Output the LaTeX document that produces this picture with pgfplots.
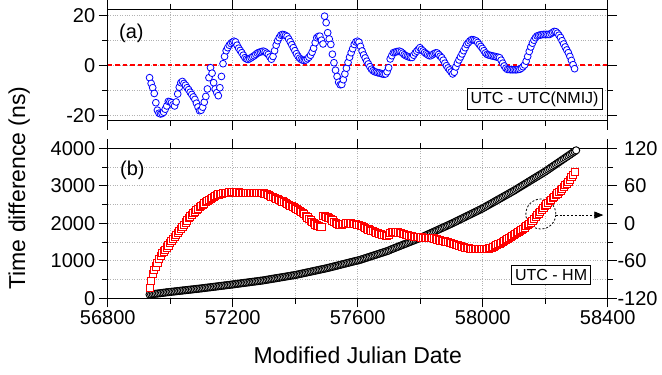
\documentclass[border=0pt]{standalone}
\usepackage{pgfplots}
\pgfplotsset{compat=1.18}
\usepackage{fontspec}
\setmainfont{Liberation Sans}
\usetikzlibrary{arrows.meta}

\pgfplotsset{
  mystyle/.style={
    scale only axis, width=500pt,
    xmin=56800, xmax=58400,
    xtick={56800,57200,57600,58000,58400},
    scaled x ticks=false, scaled y ticks=false,
    minor x tick num=1,
    tick align=outside,
    major tick length=9pt, minor tick length=5.5pt,
    tick style={black, line width=0.9pt},
    axis line style={line width=1.1pt},
    /pgf/number format/assume math mode=true,
    /pgf/number format/1000 sep={},
    tick label style={font=\fontsize{20}{24}\selectfont},
  },
  mygrid/.style={
    xmajorgrids=true, xminorgrids=true, ymajorgrids=true, yminorgrids=true,
    major grid style={dash pattern=on 0.8pt off 1.6pt, gray!60, line width=0.7pt},
    minor grid style={dash pattern=on 0.8pt off 1.6pt, gray!60, line width=0.7pt},
  }
}

\begin{document}
\begin{tikzpicture}[x=1pt,y=1pt]
\path[use as bounding box] (0,0) rectangle (662,375);

% ---------------- panel (a)
\begin{axis}[mystyle, mygrid,
  at={(107.7pt,254.3pt)}, anchor=south west, height=111.5pt,
  ymin=-22.2, ymax=22.4, ytick={-20,0,20}, minor y tick num=1,
  xticklabels={}, clip=false]
\draw[color=red, dash pattern=on 4.7pt off 2.8pt, line width=1.5pt] (axis cs:56800,0) -- (axis cs:58400,0);
\addplot[only marks, mark=*, mark size=3.4pt, mark options={fill=white, draw=blue, line width=0.8pt}] coordinates {
(56934,-5) (56939,-7.3) (56944,-9) (56949,-11.3) (56954,-15) (56959,-18) (56964,-19.2) (56969,-19.5) (56974,-19.3) (56979,-18.8) (56984,-17.6) (56989,-16.3) (56994,-14.5) (56999,-14.6) (57004,-15) (57009,-15.8) (57014,-16.3) (57019,-14.7) (57024,-11.5) (57029,-8.8) (57034,-7) (57039,-6.5) (57044,-7.3) (57049,-8) (57054,-9) (57059,-9.8) (57064,-10.8) (57069,-11.7) (57074,-12.7) (57079,-13.7) (57084,-15.2) (57089,-16.7) (57094,-18.2) (57099,-18) (57104,-16.8) (57109,-14.8) (57114,-12.5) (57119,-9.5) (57124,-5) (57129,-1) (57134,-3.2) (57139,-7) (57144,-9.5) (57149,-11) (57154,-12.2) (57159,-9) (57164,-4.5) (57169,0.6) (57174,3.5) (57179,5.8) (57184,7) (57189,8) (57194,8.7) (57199,9.2) (57204,9.6) (57209,9.3) (57214,8) (57219,6.8) (57224,5.9) (57229,5) (57234,4) (57239,3) (57244,2.5) (57249,2.3) (57254,2.6) (57259,3) (57264,3.4) (57269,3.8) (57274,4.3) (57279,4.8) (57284,5.1) (57289,5.3) (57294,5.5) (57299,5.6) (57304,5.3) (57309,4.8) (57314,4.3) (57319,3.3) (57324,2.4) (57329,3.5) (57334,5.8) (57339,8) (57344,9.8) (57349,11) (57354,12) (57359,12.3) (57364,12.2) (57369,11.9) (57374,11.5) (57379,10.5) (57384,9.4) (57389,8.2) (57394,7) (57399,5.8) (57404,4.6) (57409,3.6) (57414,2.8) (57419,2.3) (57424,2) (57429,1.9) (57434,2.1) (57439,2.6) (57444,3.2) (57449,4) (57454,5.2) (57459,6.8) (57464,9) (57469,11) (57474,11.5) (57479,11.6) (57484,10) (57489,8.5) (57494,19.6) (57499,17) (57504,13) (57509,10.5) (57514,8.3) (57519,4.4) (57524,1) (57529,-2) (57534,-4.5) (57539,-6.8) (57544,-7.8) (57549,-7.7) (57554,-5.8) (57559,-3.5) (57564,-1.2) (57569,1.1) (57574,3.2) (57579,5) (57584,6.6) (57589,8.3) (57594,9.3) (57599,9.6) (57604,9.2) (57609,7.5) (57614,5.7) (57619,4.1) (57624,2.9) (57629,1.6) (57634,0.5) (57639,-0.6) (57644,-1.6) (57649,-2.2) (57654,-2.6) (57659,-2.8) (57664,-3) (57669,-3.1) (57674,-3.3) (57679,-3.5) (57684,-3.6) (57689,-3.5) (57694,-2.6) (57699,-1) (57704,2.5) (57709,3.8) (57714,5) (57719,5.2) (57724,5.4) (57729,5.5) (57734,5.6) (57739,5.3) (57744,4.8) (57749,4.2) (57754,3.8) (57759,3.5) (57764,3.3) (57769,3.1) (57774,3.1) (57779,4) (57784,4.9) (57789,5.6) (57794,6.3) (57799,7) (57804,6.3) (57809,5.7) (57814,5.1) (57819,4.6) (57824,4.2) (57829,3.8) (57834,3.8) (57839,4.2) (57844,4.6) (57849,4.9) (57854,4.9) (57859,4.3) (57864,3.6) (57869,3) (57874,2) (57879,0.8) (57884,-0.2) (57889,-1.1) (57894,-1.9) (57899,-2.7) (57904,-3.5) (57909,-2.8) (57914,-0.7) (57919,0.8) (57924,2.1) (57929,3.3) (57934,4.5) (57939,5.8) (57944,7) (57949,8.3) (57954,9) (57959,9.7) (57964,10.2) (57969,10.2) (57974,10) (57979,9.7) (57984,9.1) (57989,8.3) (57994,7.5) (57999,6.7) (58004,5.8) (58009,4.9) (58014,4.3) (58019,4.1) (58024,3.9) (58029,3.8) (58034,3.6) (58039,3.5) (58044,3.3) (58049,3.2) (58054,3) (58059,2) (58064,0.8) (58069,-0.3) (58074,-1.2) (58079,-1.7) (58084,-1.7) (58089,-1.8) (58094,-1.8) (58099,-1.8) (58104,-1.8) (58109,-1.8) (58114,-1.7) (58119,-1.6) (58124,-1.2) (58129,-0.6) (58134,0.1) (58139,1.6) (58144,3.5) (58149,5.5) (58154,7.3) (58159,8.8) (58164,10) (58169,11) (58174,11.7) (58179,11.9) (58184,12.1) (58189,12.2) (58194,12.3) (58199,12.3) (58204,12.3) (58209,12.3) (58214,12.3) (58219,12.7) (58224,13.1) (58229,13.5) (58234,13.4) (58239,12.8) (58244,12) (58249,11.1) (58254,9.8) (58259,8.5) (58264,7.3) (58269,6.1) (58274,5) (58279,3.5) (58284,1.9) (58289,0.2) (58294,-1.4)
};
\node[draw=black, line width=0.9pt, fill=white, font=\fontsize{16}{19}\selectfont, inner sep=3.5pt] at (axis cs:58166,-13.5) {UTC - UTC(NMIJ)};
\end{axis}

% ---------------- panel (b), left axis
\begin{axis}[mystyle, mygrid,
  at={(107.7pt,76.7pt)}, anchor=south west, height=150pt,
  axis y line*=left,
  ymin=0, ymax=4000, ytick={0,1000,2000,3000,4000}, minor y tick num=1,
  clip=false]
\addplot[only marks, mark=*, mark size=3.6pt, mark options={fill=white, draw=black, line width=0.95pt}] coordinates {
(56934,100) (56939,105) (56944,110) (56949,116) (56954,121) (56959,126) (56964,132) (56969,137) (56974,143) (56979,148) (56984,153) (56989,159) (56994,164) (56999,169)
(57004,174) (57009,178) (57014,183) (57019,188) (57024,193) (57029,197) (57034,202) (57039,207) (57044,212) (57049,216) (57054,221) (57059,226) (57064,231) (57069,235) (57074,240) (57079,245) (57084,250) (57089,254) (57094,259) (57099,264)
(57104,269) (57109,274) (57114,280) (57119,285) (57124,290) (57129,295) (57134,300) (57139,306) (57144,311) (57149,316) (57154,321) (57159,327) (57164,332) (57169,337) (57174,342) (57179,348) (57184,353) (57189,358) (57194,363) (57199,369)
(57204,374) (57209,380) (57214,385) (57219,391) (57224,396) (57229,402) (57234,407) (57239,413) (57244,418) (57249,424) (57254,429) (57259,435) (57264,440) (57269,446) (57274,451) (57279,457) (57284,462) (57289,468) (57294,473) (57299,479)
(57304,487) (57309,494) (57314,501) (57319,508) (57324,515) (57329,522) (57334,529) (57339,536) (57344,543) (57349,550) (57354,557) (57359,564) (57364,571) (57369,578) (57374,585) (57379,592) (57384,599) (57389,606) (57394,613) (57399,620)
(57404,628) (57409,637) (57414,646) (57419,655) (57424,664) (57429,673) (57434,682) (57439,691) (57444,700) (57449,709) (57454,718) (57459,727) (57464,736) (57469,745) (57474,754) (57479,763) (57484,772) (57489,781) (57494,790) (57499,799)
(57504,808) (57509,819) (57514,829) (57519,840) (57524,850) (57529,861) (57534,871) (57539,882) (57544,892) (57549,903) (57554,913) (57559,924) (57564,934) (57569,945) (57574,955) (57579,966) (57584,976) (57589,987) (57594,997) (57599,1008)
(57604,1015) (57609,1029) (57614,1042) (57619,1056) (57624,1069) (57629,1083) (57634,1096) (57639,1110) (57644,1123) (57649,1137) (57654,1150) (57659,1164) (57664,1177) (57669,1191) (57674,1204) (57679,1218) (57684,1231) (57689,1245) (57694,1258) (57699,1272)
(57704,1293) (57709,1310) (57714,1326) (57719,1343) (57724,1359) (57729,1376) (57734,1392) (57739,1409) (57744,1425) (57749,1442) (57754,1458) (57759,1475) (57764,1491) (57769,1508) (57774,1524) (57779,1541) (57784,1557) (57789,1574) (57794,1590) (57799,1607)
(57804,1625) (57809,1644) (57814,1663) (57819,1682) (57824,1701) (57829,1720) (57834,1739) (57839,1758) (57844,1777) (57849,1796) (57854,1815) (57859,1834) (57864,1853) (57869,1872) (57874,1891) (57879,1910) (57884,1929) (57889,1948) (57894,1967) (57899,1986)
(57904,2006) (57909,2027) (57914,2047) (57919,2068) (57924,2088) (57929,2109) (57934,2129) (57939,2150) (57944,2170) (57949,2191) (57954,2211) (57959,2232) (57964,2252) (57969,2273) (57974,2293) (57979,2314) (57984,2334) (57989,2355) (57994,2375) (57999,2396)
(58004,2419) (58009,2442) (58014,2466) (58019,2489) (58024,2513) (58029,2536) (58034,2560) (58039,2583) (58044,2607) (58049,2630) (58054,2654) (58059,2677) (58064,2701) (58069,2724) (58074,2748) (58079,2771) (58084,2795) (58089,2818) (58094,2842) (58099,2865)
(58104,2890) (58109,2916) (58114,2941) (58119,2967) (58124,2992) (58129,3018) (58134,3043) (58139,3069) (58144,3094) (58149,3120) (58154,3145) (58159,3171) (58164,3196) (58169,3222) (58174,3247) (58179,3273) (58184,3298) (58189,3324) (58194,3349) (58199,3375)
(58204,3403) (58209,3432) (58214,3460) (58219,3489) (58224,3517) (58229,3546) (58234,3574) (58239,3603) (58244,3631) (58249,3660) (58254,3688) (58259,3717) (58264,3745) (58269,3774) (58274,3802) (58279,3831) (58284,3859) (58289,3888) (58294,3916) (58299,3945)
};
\node[draw=black, line width=0.9pt, fill=white, font=\fontsize{16}{19}\selectfont, inner sep=3.5pt] at (axis cs:58219,621) {UTC - HM};
\draw[black, line width=0.8pt, dash pattern=on 2pt off 1.8pt] (axis cs:58186,2248) circle[radius=15pt];
\draw[black, line width=0.8pt, dash pattern=on 2pt off 1.8pt, -{Triangle[length=9pt,width=7pt]}] (axis cs:58234,2220) -- (axis cs:58386,2220);
\end{axis}

% ---------------- panel (b), right axis
\begin{axis}[mystyle,
  at={(107.7pt,76.7pt)}, anchor=south west, height=150pt,
  axis y line*=right, axis x line=none,
  ymin=-120, ymax=120, ytick={-120,-60,0,60,120}, minor y tick num=1,
  yticklabels={\llap{-}120,\llap{-}60,0,60,120},
  yticklabel style={xshift=4pt},
  clip=false]
\addplot[only marks, mark=square*, mark size=3.6pt, mark options={fill=white, draw=red, line width=0.8pt}] coordinates {
(56934,-104) (56939,-92) (56944,-81) (56949,-74) (56954,-69) (56959,-64) (56964,-57) (56969,-52) (56974,-48) (56979,-45) (56984,-42) (56989,-38.5) (56994,-35.3) (56999,-32)
(57004,-28.7) (57009,-25.4) (57014,-22) (57019,-18.8) (57024,-15.4) (57029,-12) (57034,-8.7) (57039,-5.4) (57044,-2) (57049,1.3) (57054,4.6) (57059,8) (57064,11) (57069,13.5) (57074,16) (57079,18.5) (57084,21) (57089,23.6) (57094,26) (57099,28.2)
(57104,30) (57109,31.8) (57114,33.6) (57119,35.4) (57124,37.3) (57129,39.2) (57134,41) (57139,42.8) (57144,44) (57149,45.2) (57154,46.2) (57159,47) (57164,47.5) (57169,48) (57174,48.5) (57179,48.9) (57184,49.2) (57189,49.4) (57194,49.5) (57199,49.6)
(57204,49.6) (57209,49.5) (57214,49.4) (57219,49.3) (57224,49.2) (57229,49.1) (57234,49) (57239,49) (57244,49) (57249,49) (57254,49) (57259,49) (57264,49) (57269,49) (57274,49) (57279,49) (57284,49) (57289,48.8) (57294,48.3) (57299,47.8)
(57304,47.3) (57309,46.6) (57314,45.3) (57319,44) (57324,42.8) (57329,41.6) (57334,40.5) (57339,39.5) (57344,38.5) (57349,37.4) (57354,36.3) (57359,35.1) (57364,34) (57369,32.5) (57374,31) (57379,29.6) (57384,28.3) (57389,27.3) (57394,26.2) (57399,24.5)
(57404,23) (57409,21.3) (57414,19.8) (57419,18.2) (57424,16.6) (57429,14.5) (57434,12) (57439,9.5) (57444,7) (57449,4.6) (57454,2.4) (57459,0.2) (57464,-1.8) (57469,-3.5) (57474,-4.5) (57479,-5.2) (57484,-5.8) (57489,11.5) (57494,11.2) (57499,10.5)
(57504,9.4) (57509,8.3) (57514,6.8) (57519,4.7) (57524,2.5) (57529,0.5) (57534,-1) (57539,-2) (57544,-2.6) (57549,-2) (57554,-1.2) (57559,-0.5) (57564,-0.1) (57569,0) (57574,0) (57579,-0.2) (57584,-0.6) (57589,-1) (57594,-1.5) (57599,-2)
(57604,-2.6) (57609,-3.6) (57614,-4.8) (57619,-6) (57624,-7.3) (57629,-8.6) (57634,-9.8) (57639,-10.7) (57644,-11.8) (57649,-12.8) (57654,-14) (57659,-15) (57664,-16) (57669,-16.8) (57674,-17.5) (57679,-18.3) (57684,-19) (57689,-19.8) (57694,-20.3) (57699,-18)
(57704,-15.5) (57709,-13.6) (57714,-13.5) (57719,-13.8) (57724,-14.2) (57729,-14.6) (57734,-15) (57739,-15.7) (57744,-16.5) (57749,-17.3) (57754,-18.2) (57759,-19) (57764,-19.8) (57769,-20.4) (57774,-20.8) (57779,-21.2) (57784,-21.5) (57789,-21.8) (57794,-22.1) (57799,-22.4)
(57804,-22.6) (57809,-22.8) (57814,-23) (57819,-23.2) (57824,-23.4) (57829,-23.5) (57834,-23.7) (57839,-23.9) (57844,-24.2) (57849,-25) (57854,-25.8) (57859,-26.6) (57864,-27.3) (57869,-28) (57874,-28.6) (57879,-29.1) (57884,-29.5) (57889,-30.2) (57894,-31) (57899,-31.8)
(57904,-32.6) (57909,-33.5) (57914,-34.4) (57919,-35.2) (57924,-36) (57929,-36.7) (57934,-37.4) (57939,-38.1) (57944,-38.8) (57949,-39.4) (57954,-40) (57959,-40.5) (57964,-40.9) (57969,-41.1) (57974,-41.2) (57979,-41.3) (57984,-41.3) (57989,-41.3) (57994,-41.3) (57999,-41.2)
(58004,-41.1) (58009,-41) (58014,-40.7) (58019,-40.2) (58024,-39.6) (58029,-38.9) (58034,-38) (58039,-36.8) (58044,-35.2) (58049,-33.6) (58054,-32.4) (58059,-31.2) (58064,-29.9) (58069,-28.4) (58074,-26.6) (58079,-24.8) (58084,-23) (58089,-21.3) (58094,-19.6) (58099,-18.2)
(58104,-16.6) (58109,-15) (58114,-13.4) (58119,-11.8) (58124,-10.1) (58129,-8.4) (58134,-6.5) (58139,-4.5) (58144,-2.5) (58149,-0.6) (58154,1.5) (58159,3.8) (58164,6.8) (58169,9.8) (58174,12.8) (58179,15.8) (58184,18.8) (58189,21.8) (58194,24.8) (58199,27.8)
(58204,30.3) (58209,32.8) (58214,35.2) (58219,37.7) (58224,40.2) (58229,42.7) (58234,45.2) (58239,47.8) (58244,50.2) (58249,52.7) (58254,55.6) (58259,58.5) (58264,61) (58269,63.5) (58274,66.6) (58279,70) (58284,73.7) (58289,77.5) (58294,81.6)
};
\end{axis}

% ---------------- labels
\node[anchor=west, inner sep=0pt, font=\fontsize{20}{24}\selectfont] at (119,342) {(a)};
\node[anchor=west, inner sep=0pt, font=\fontsize{20}{24}\selectfont] at (120,205) {(b)};
\node[anchor=base, inner sep=0pt, font=\fontsize{23}{27}\selectfont] at (357.7,11.7) {Modified Julian Date};
\node[anchor=base, rotate=90, inner sep=0pt, font=\fontsize{23}{27}\selectfont] at (25,187) {Time difference (ns)};
\end{tikzpicture}
\end{document}
